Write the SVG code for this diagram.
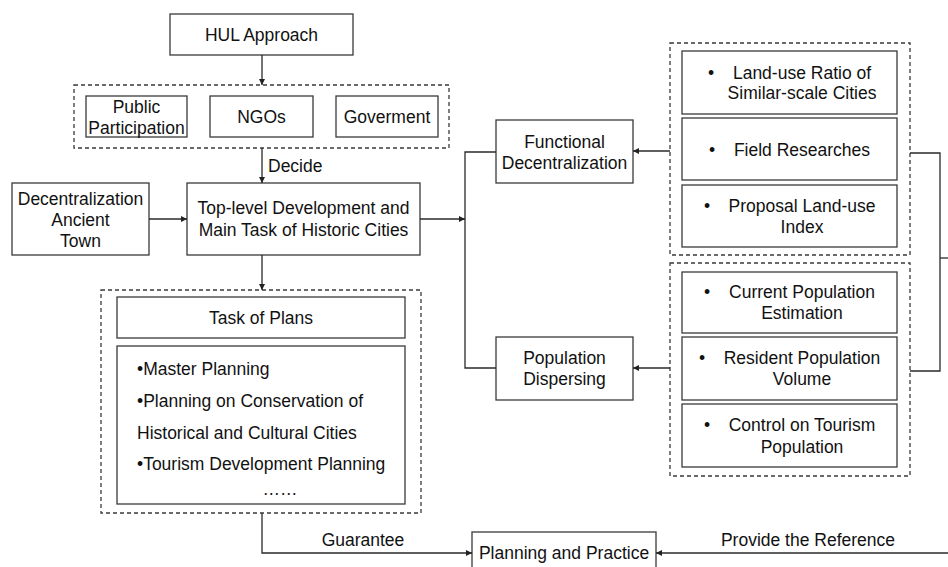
<svg xmlns="http://www.w3.org/2000/svg" width="948" height="567" viewBox="0 0 948 567">
<defs>
<marker id="arr" viewBox="0 0 8 8" refX="8" refY="4" markerWidth="6" markerHeight="6" markerUnits="userSpaceOnUse" orient="auto">
<path d="M0,0 L8,4 L0,8 z" fill="#222"/>
</marker>
<style>
.box{fill:#fff;stroke:#3a3a3a;stroke-width:1.3}
.dash{fill:none;stroke:#3a3a3a;stroke-width:1.3;stroke-dasharray:4 3}
.ln{fill:none;stroke:#2a2a2a;stroke-width:1.3}
text{font-family:"Liberation Sans",Arial,sans-serif;font-size:17.5px;fill:#111}
.c{text-anchor:middle}
</style>
</defs>
<rect width="948" height="567" fill="#fff"/>

<g id="hul"><rect class="box" x="170" y="14" width="183" height="41"/><text class="c" x="261.5" y="40.5">HUL Approach</text></g>

<g id="stakeholders">
<rect class="dash" x="74" y="85" width="375" height="63"/>
<g id="public"><rect class="box" x="86" y="96" width="101" height="41"/><text class="c" x="136.5" y="113">Public</text><text class="c" x="136.5" y="134">Participation</text></g>
<g id="ngos"><rect class="box" x="210" y="96" width="103" height="41"/><text class="c" x="261.5" y="122.5">NGOs</text></g>
<g id="gov"><rect class="box" x="336" y="96" width="102" height="41"/><text class="c" x="387" y="122.5">Goverment</text></g>
</g>

<g id="decentral"><rect class="box" x="12" y="183" width="137" height="72"/><text class="c" x="80.5" y="205">Decentralization</text><text class="c" x="80.5" y="226">Ancient</text><text class="c" x="80.5" y="247">Town</text></g>

<g id="toplevel"><rect class="box" x="187" y="183" width="233" height="72"/><text class="c" x="303.5" y="214">Top-level Development and</text><text class="c" x="303.5" y="236">Main Task of Historic Cities</text></g>

<g id="plans">
<rect class="dash" x="101" y="290" width="320" height="223"/>
<rect class="box" x="117" y="297" width="288" height="41"/><text class="c" x="261" y="324">Task of Plans</text>
<rect class="box" x="117" y="346" width="288" height="158"/>
<text x="137" y="375">•Master Planning</text>
<text x="137" y="407">•Planning on Conservation of</text>
<text x="137" y="439">Historical and Cultural Cities</text>
<text x="137" y="470">•Tourism Development Planning</text>
<text class="c" x="280" y="495">……</text>
</g>

<g id="functional"><rect class="box" x="496" y="120" width="137" height="63"/><text class="c" x="564.5" y="148">Functional</text><text class="c" x="564.5" y="169">Decentralization</text></g>
<g id="population"><rect class="box" x="496" y="337" width="137" height="63"/><text class="c" x="564.5" y="364">Population</text><text class="c" x="564.5" y="385">Dispersing</text></g>

<g id="landuse">
<rect class="dash" x="670" y="43" width="240" height="212"/>
<rect class="box" x="682" y="51" width="215" height="63"/><text x="711" y="79" class="c">•</text><text class="c" x="802" y="79">Land-use Ratio of</text><text class="c" x="802" y="99">Similar-scale Cities</text>
<rect class="box" x="682" y="118" width="215" height="62"/><text x="712" y="156" class="c">•</text><text class="c" x="802" y="156">Field Researches</text>
<rect class="box" x="682" y="185" width="215" height="62"/><text x="707" y="212" class="c">•</text><text class="c" x="802" y="212">Proposal Land-use</text><text class="c" x="802" y="233">Index</text>
</g>

<g id="popdata">
<rect class="dash" x="670" y="263" width="240" height="213"/>
<rect class="box" x="682" y="272" width="215" height="61"/><text x="707" y="298" class="c">•</text><text class="c" x="802" y="298">Current Population</text><text class="c" x="802" y="319">Estimation</text>
<rect class="box" x="682" y="337" width="215" height="63"/><text x="702" y="364" class="c">•</text><text class="c" x="802" y="364">Resident Population</text><text class="c" x="802" y="385">Volume</text>
<rect class="box" x="682" y="404" width="215" height="63"/><text x="707" y="431" class="c">•</text><text class="c" x="802" y="431">Control on Tourism</text><text class="c" x="802" y="453">Population</text>
</g>

<g id="practice"><rect class="box" x="472" y="532" width="184" height="45"/><text class="c" x="564" y="559">Planning and Practice</text></g>

<g id="connectors">
<path class="ln" d="M262,55 V85" marker-end="url(#arr)"/>
<path class="ln" d="M262,148 V183" marker-end="url(#arr)"/>
<text x="268" y="172">Decide</text>
<path class="ln" d="M149,219 H187" marker-end="url(#arr)"/>
<path class="ln" d="M420,219 H465" marker-end="url(#arr)"/>
<path class="ln" d="M496,152 H465 V368 H496"/>
<path class="ln" d="M262,255 V290" marker-end="url(#arr)"/>
<path class="ln" d="M670,151 H633" marker-end="url(#arr)"/>
<path class="ln" d="M670,368 H633" marker-end="url(#arr)"/>
<path class="ln" d="M910,153 H940 V371 H910"/>
<path class="ln" d="M940,258 H948"/>
<path class="ln" d="M262,513 V553 H472" marker-end="url(#arr)"/>
<text class="c" x="363" y="546">Guarantee</text>
<path class="ln" d="M948,553 H656" marker-end="url(#arr)"/>
<text class="c" x="808" y="546">Provide the Reference</text>
</g>
</svg>
